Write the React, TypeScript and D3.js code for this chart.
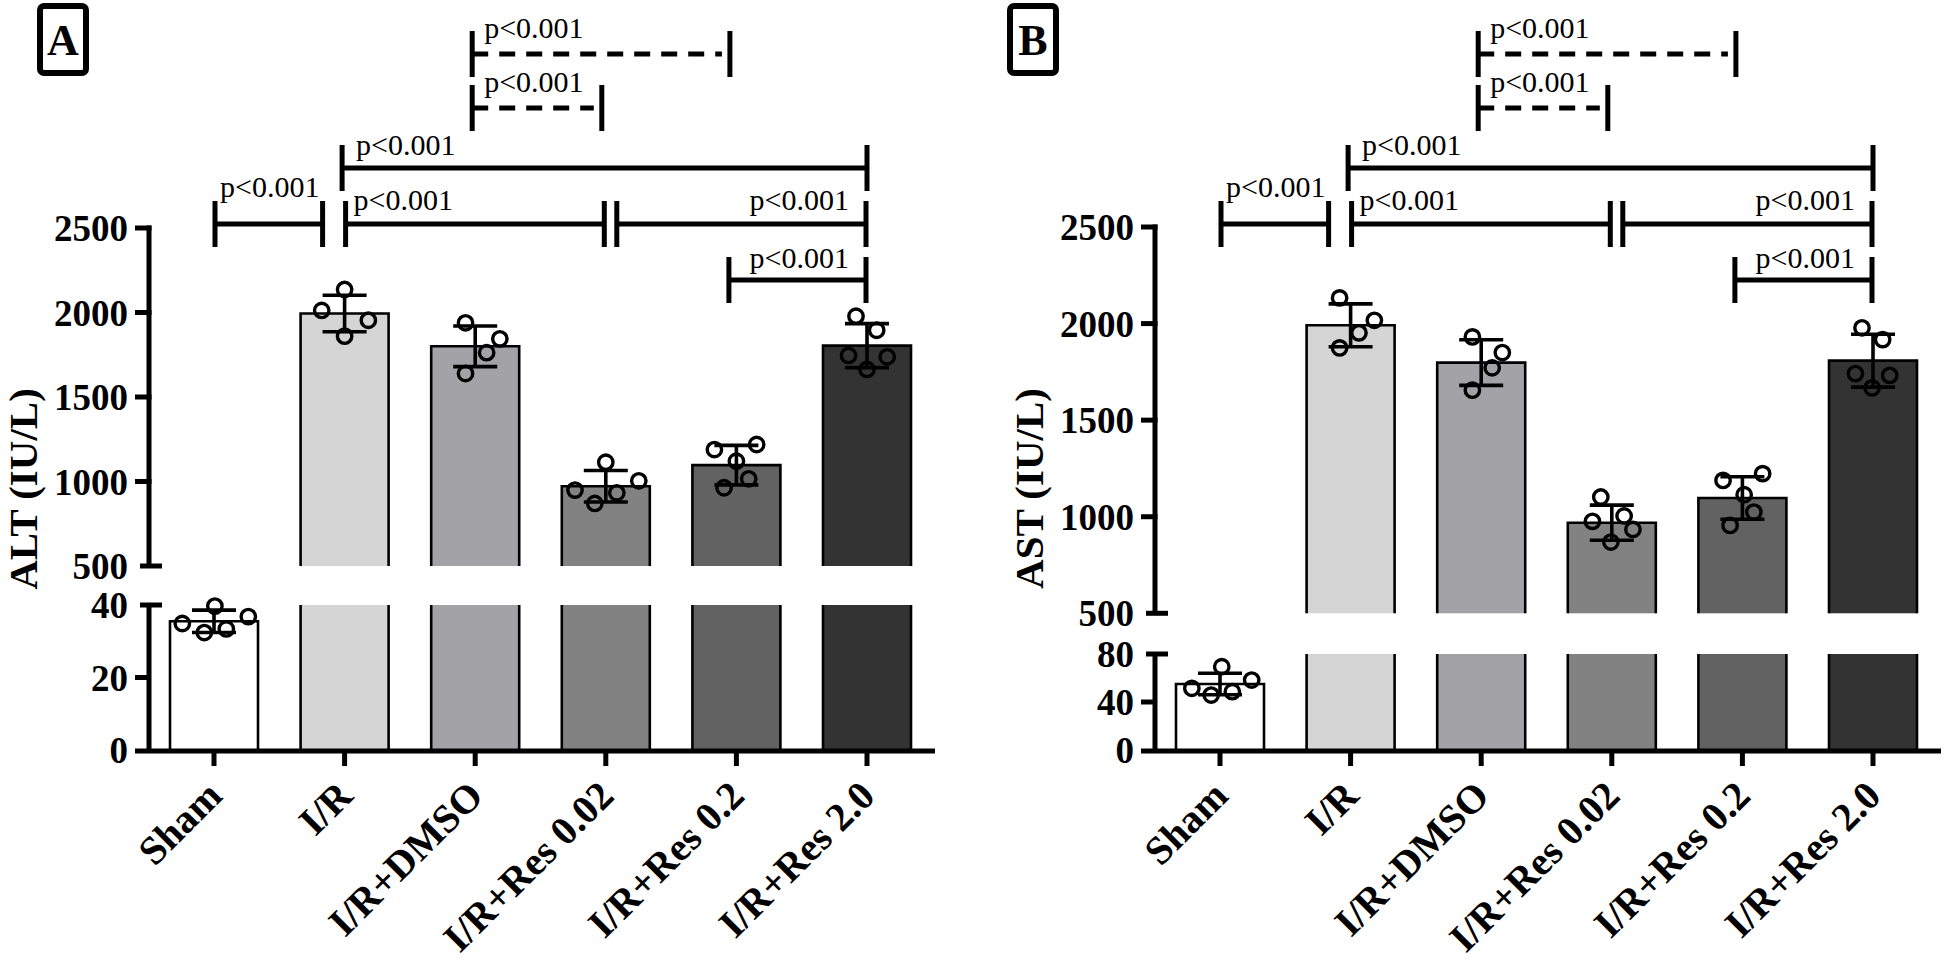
import React from "react";
import * as d3 from "d3";

// ---------- data ----------
const groups = ["Sham", "I/R", "I/R+DMSO", "I/R+Res 0.02", "I/R+Res 0.2", "I/R+Res 2.0"];

const altMeans = [35.5, 1994, 1800, 972, 1097, 1804];
const altSD = [3.1, 108, 120, 93, 117, 130];
const altPoints = [
  [34.9, 39.7, 36.8, 32.4, 33.4],
  [2136, 2012, 1954, 1860],
  [1939, 1844, 1762, 1639],
  [1114, 1004, 949, 933, 870],
  [1189, 1219, 1120, 1016, 963],
  [1978, 1895, 1746, 1738, 1663],
];

const astMeans = [55, 1991, 1798, 969, 1097, 1808];
const astSD = [9, 111, 118, 91, 110, 137];
const astPoints = [
  [51.4, 69.4, 58.3, 45.8, 48.6],
  [2133, 2017, 1952, 1874],
  [1931, 1850, 1771, 1655],
  [1102, 1004, 976, 934, 869],
  [1223, 1188, 1114, 1024, 955],
  [1978, 1917, 1741, 1732, 1667],
];

const upperTicks = [500, 1000, 1500, 2000, 2500];
const altLowerTicks = [0, 20, 40];
const astLowerTicks = [0, 40, 80];

const pLabel = "p<0.001";
const brackets = [
  { from: "I/R+Res 0.2", to: "I/R+Res 2.0", level: 1, dashed: false, align: "end" },
  { from: "Sham", to: "I/R", level: 2, dashed: false, align: "start" },
  { from: "I/R", to: "I/R+Res 0.02", level: 2, dashed: false, align: "start" },
  { from: "I/R+Res 0.02", to: "I/R+Res 2.0", level: 2, dashed: false, align: "end" },
  { from: "I/R", to: "I/R+Res 2.0", level: 3, dashed: false, align: "start" },
  { from: "I/R+DMSO", to: "I/R+Res 0.02", level: 4, dashed: true, align: "start" },
  { from: "I/R+DMSO", to: "I/R+Res 0.2", level: 5, dashed: true, align: "start" },
];

// ---------- layout ----------
const FONT = "'Liberation Serif', 'Times New Roman', serif";
const fills = ["#ffffff", "#d5d5d5", "#a3a3a7", "#828282", "#626262", "#333333"];
const barW = 88;
const levelY = [280, 224, 168, 108, 54];
const bracketNudge = [[-7.5, -1], [1, -22], [1, -1.5], [11, -1], [-2.5, 0], [-3, -4], [-3, -6.5]];
const labelDx = [-17, 5, 8, -17, 14, 12, 12];
const labelDy = [-12, -27, -14, -14, -13, -16, -16];

// jitter as fraction of bar width
const altJitter = [
  [-0.36, 0.01, 0.39, -0.11, 0.14],
  [0, -0.26, 0.27, 0],
  [-0.11, 0.28, 0.13, -0.11],
  [0, 0.375, -0.35, 0.125, -0.125],
  [-0.25, 0.23, 0, 0.14, -0.14],
  [-0.125, 0.11, -0.21, 0.23, 0],
];
const astJitter = [
  [-0.32, 0.02, 0.36, -0.1, 0.14],
  [-0.125, 0.27, 0.095, -0.125],
  [-0.1, 0.24, 0.125, -0.1],
  [-0.125, 0.14, -0.22, 0.24, -0.01],
  [0.23, -0.22, 0.02, 0.13, -0.14],
  [-0.125, 0.11, -0.2, 0.19, -0.01],
];

type PanelProps = {
  dx: number;
  yLabel: string;
  means: number[];
  sds: number[];
  points: number[][];
  jitter: number[][];
  lowerTicks: number[];
  upperRange: [number, number];
  lowerTop: number;
};

const AXIS_X = 149;
const AXIS_Y = 751;

function Panel({ dx, yLabel, means, sds, points, jitter, lowerTicks, upperRange, lowerTop }: PanelProps) {
  const x = d3.scalePoint<string>().domain(groups).range([AXIS_X + 65, AXIS_X + 65 + 5 * 130.6]);
  const yU = d3.scaleLinear().domain([500, 2500]).range(upperRange);
  const lowMax = lowerTicks[lowerTicks.length - 1];
  const yL = d3.scaleLinear().domain([0, lowMax]).range([750, lowerTop]);
  const breakVal = 500;

  const yOf = (v: number) => (v >= breakVal ? yU(v) : yL(Math.min(v, lowMax)));

  const bars: React.ReactNode[] = [];
  groups.forEach((g, i) => {
    const cx = x(g)!;
    const l = cx - barW / 2;
    const r = cx + barW / 2;
    const m = means[i];
    // lower segment
    const lTop = yL(Math.min(m, lowMax));
    bars.push(<rect key={`lf${i}`} x={l} y={lTop} width={barW} height={750 - lTop} fill={fills[i]} />);
    if (m <= lowMax) {
      bars.push(
        <path key={`lo${i}`} d={`M${l},750V${lTop}H${r}V750`} fill="none" stroke="#000" strokeWidth={2.6} />
      );
    } else {
      bars.push(<path key={`lo${i}`} d={`M${l},750V${lTop}M${r},${lTop}V750`} fill="none" stroke="#000" strokeWidth={2.6} />);
      const uTop = yU(m);
      const uBot = yU(breakVal);
      bars.push(<rect key={`uf${i}`} x={l} y={uTop} width={barW} height={uBot - uTop} fill={fills[i]} />);
      bars.push(
        <path key={`uo${i}`} d={`M${l},${uBot}V${uTop}H${r}V${uBot}`} fill="none" stroke="#000" strokeWidth={2.6} />
      );
    }
  });

  const errs = groups.map((g, i) => {
    const cx = x(g)!;
    const y1 = yOf(means[i] + sds[i]);
    const y0 = yOf(means[i] - sds[i]);
    return (
      <g key={`e${i}`} stroke="#000" strokeWidth={3.6}>
        <line x1={cx} x2={cx} y1={y1} y2={y0} />
        <line x1={cx - 22} x2={cx + 22} y1={y1} y2={y1} />
        <line x1={cx - 22} x2={cx + 22} y1={y0} y2={y0} />
      </g>
    );
  });

  const dots = groups.map((g, i) =>
    points[i].map((v, j) => (
      <circle
        key={`p${i}-${j}`}
        cx={x(g)! + jitter[i][j] * barW}
        cy={yOf(v)}
        r={7.2}
        fill="none"
        stroke="#000"
        strokeWidth={3.4}
      />
    ))
  );

  const axisMid = (yU(2500) + 750) / 2;

  return (
    <g transform={`translate(${dx},0)`} fontFamily={FONT}>
      {bars}
      {errs}
      {dots}
      {/* y axis upper */}
      <line x1={AXIS_X} x2={AXIS_X} y1={yU(2500) - 2.5} y2={yU(500)} stroke="#000" strokeWidth={5} />
      {upperTicks.map((t) => (
        <g key={`ut${t}`}>
          {t === 500 ? (
            <line x1={AXIS_X - 9} x2={AXIS_X + 13} y1={yU(t)} y2={yU(t)} stroke="#000" strokeWidth={5} />
          ) : (
            <line x1={AXIS_X - 14} x2={AXIS_X + 2.5} y1={yU(t)} y2={yU(t)} stroke="#000" strokeWidth={5} />
          )}
          <text x={128} y={yU(t) + 13} textAnchor="end" fontSize={37} fontWeight="bold">
            {t}
          </text>
        </g>
      ))}
      {/* y axis lower */}
      <line x1={AXIS_X} x2={AXIS_X} y1={yL(lowMax)} y2={AXIS_Y} stroke="#000" strokeWidth={5} />
      {lowerTicks.map((t) => (
        <g key={`lt${t}`}>
          {t === lowMax ? (
            <line x1={AXIS_X - 9} x2={AXIS_X + 13} y1={yL(t)} y2={yL(t)} stroke="#000" strokeWidth={5} />
          ) : t === 0 ? null : (
            <line x1={AXIS_X - 14} x2={AXIS_X} y1={yL(t)} y2={yL(t)} stroke="#000" strokeWidth={5} />
          )}
          <text x={128} y={yL(t) + 13} textAnchor="end" fontSize={37} fontWeight="bold">
            {t}
          </text>
        </g>
      ))}
      {/* x axis */}
      <line x1={AXIS_X - 14} x2={935} y1={AXIS_Y} y2={AXIS_Y} stroke="#000" strokeWidth={5} />
      {groups.map((g) => (
        <g key={`xt${g}`}>
          <line x1={x(g)!} x2={x(g)!} y1={AXIS_Y} y2={AXIS_Y + 15} stroke="#000" strokeWidth={5} />
          <text
            transform={`translate(${x(g)! + 10},${798}) rotate(-45)`}
            textAnchor="end"
            fontSize={40}
            fontWeight="bold"
          >
            {g}
          </text>
        </g>
      ))}
      {/* y label */}
      <text
        transform={`translate(37,${axisMid}) rotate(-90)`}
        textAnchor="middle"
        fontSize={41}
        fontWeight="bold"
      >
        {yLabel}
      </text>
      {/* brackets */}
      {brackets.map((b, k) => {
        const x1 = x(b.from)! + bracketNudge[k][0];
        const x2 = x(b.to)! + bracketNudge[k][1];
        const y = levelY[b.level - 1];
        const lx = b.align === "start" ? x1 + labelDx[k] : x2 + labelDx[k];
        return (
          <g key={`b${k}`}>
            <line x1={x1} x2={x1} y1={y - 23} y2={y + 23} stroke="#000" strokeWidth={5} />
            <line x1={x2} x2={x2} y1={y - 23} y2={y + 23} stroke="#000" strokeWidth={5} />
            <line
              x1={x1}
              x2={x2 - (b.dashed ? 8 : 0)}
              y1={y}
              y2={y}
              stroke="#000"
              strokeWidth={5}
              strokeDasharray={b.dashed ? "16 11" : undefined}
            />
            <text x={lx} y={y + labelDy[k]} textAnchor={b.align} fontSize={30}>
              {pLabel}
            </text>
          </g>
        );
      })}
    </g>
  );
}

function PanelTag({ x, letter }: { x: number; letter: string }) {
  return (
    <g fontFamily={FONT}>
      <rect x={x} y={6} width={46} height={67} rx={4} fill="#fff" stroke="#000" strokeWidth={6} />
      <text x={x + 23} y={55} textAnchor="middle" fontSize={44} fontWeight="bold">
        {letter}
      </text>
    </g>
  );
}

export default function App() {
  return (
    <div style={{ position: "absolute", left: 0, top: 0 }}>
      <svg width={1944} height={964} viewBox="0 0 1944 964" style={{ display: "block", background: "#fff" }}>
        <rect x={0} y={0} width={1944} height={964} fill="#fff" />
        <PanelTag x={40} letter="A" />
        <PanelTag x={1010} letter="B" />
        <Panel
          dx={0}
          yLabel="ALT (IU/L)"
          means={altMeans}
          sds={altSD}
          points={altPoints}
          jitter={altJitter}
          lowerTicks={altLowerTicks}
          upperRange={[566, 228]}
          lowerTop={605}
        />
        <Panel
          dx={1006}
          yLabel="AST (IU/L)"
          means={astMeans}
          sds={astSD}
          points={astPoints}
          jitter={astJitter}
          lowerTicks={astLowerTicks}
          upperRange={[613.3, 227]}
          lowerTop={654}
        />
      </svg>
    </div>
  );
}
